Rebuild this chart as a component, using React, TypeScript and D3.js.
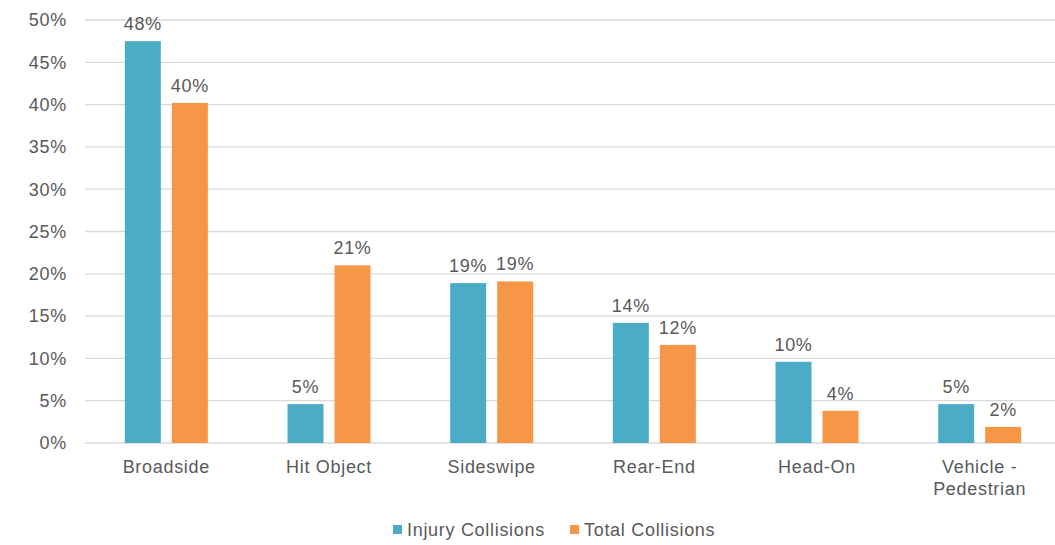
import * as d3 from 'd3'
import React from 'react'

const categories = ['Broadside', 'Hit Object', 'Sideswipe', 'Rear-End', 'Head-On', 'Vehicle - Pedestrian']
const injury = [0.475, 0.046, 0.189, 0.142, 0.096, 0.046]
const total = [0.402, 0.21, 0.191, 0.116, 0.038, 0.019]
const seriesNames = ['Injury Collisions', 'Total Collisions']
const colors = ['#4BACC6', '#F79646']
const yTicks = [0, 0.05, 0.1, 0.15, 0.2, 0.25, 0.3, 0.35, 0.4, 0.45, 0.5]

const W = 1055, H = 545
const margin = { left: 85, right: -6, top: 20, bottom: 102 }

export default function App() {
  const
    x = d3.scaleBand<string>().domain(categories).range([margin.left, W - margin.right]).paddingInner(0).paddingOuter(0),
    y = d3.scaleLinear().domain([0, 0.5]).range([H - margin.bottom, margin.top]),
    barW = 36,
    gap = 11,
    pct = d3.format('.0%'),
    font = "'Liberation Sans', Arial, sans-serif",
    fs = 18,
    ls = 0.7,
    series = [injury, total]

  return (
    <svg width={W} height={H} style={{ position: 'absolute', left: 0, top: 0, background: '#fff' }} fontFamily={font} letterSpacing={ls}>
      {yTicks.map(t => (
        <g key={t}>
          <line x1={margin.left} x2={W} y1={y(t)} y2={y(t)} stroke='#d9d9d9' strokeWidth={1.3} />
          <text x={67} y={y(t)} dy='0.35em' textAnchor='end' fontSize={fs} fill='#595959'>{pct(t)}</text>
        </g>
      ))}
      {categories.map((c, i) => {
        const cx = x(c)! + x.bandwidth() / 2
        const lines = c === 'Vehicle - Pedestrian' ? ['Vehicle -', 'Pedestrian'] : [c]
        return (
          <g key={c}>
            {series.map((s, k) => {
              const bx = cx - gap / 2 - barW + k * (barW + gap)
              return (
                <g key={k}>
                  <rect x={bx} y={y(s[i])} width={barW} height={y(0) - y(s[i])} fill={colors[k]} />
                  <text x={bx + barW / 2} y={y(s[i]) - 11} textAnchor='middle' fontSize={fs} fill='#595959'>{pct(s[i])}</text>
                </g>
              )
            })}
            {lines.map((l, j) => (
              <text key={l} x={cx} y={y(0) + 30 + j * 22} textAnchor='middle' fontSize={fs} fill='#595959'>{l}</text>
            ))}
          </g>
        )
      })}
      {seriesNames.map((n, k) => {
        const lx = [393, 570][k]
        return (
          <g key={n}>
            <rect x={lx} y={525} width={9} height={9} fill={colors[k]} />
            <text x={lx + 14} y={530} dy='0.35em' fontSize={fs} fill='#595959'>{n}</text>
          </g>
        )
      })}
    </svg>
  )
}
